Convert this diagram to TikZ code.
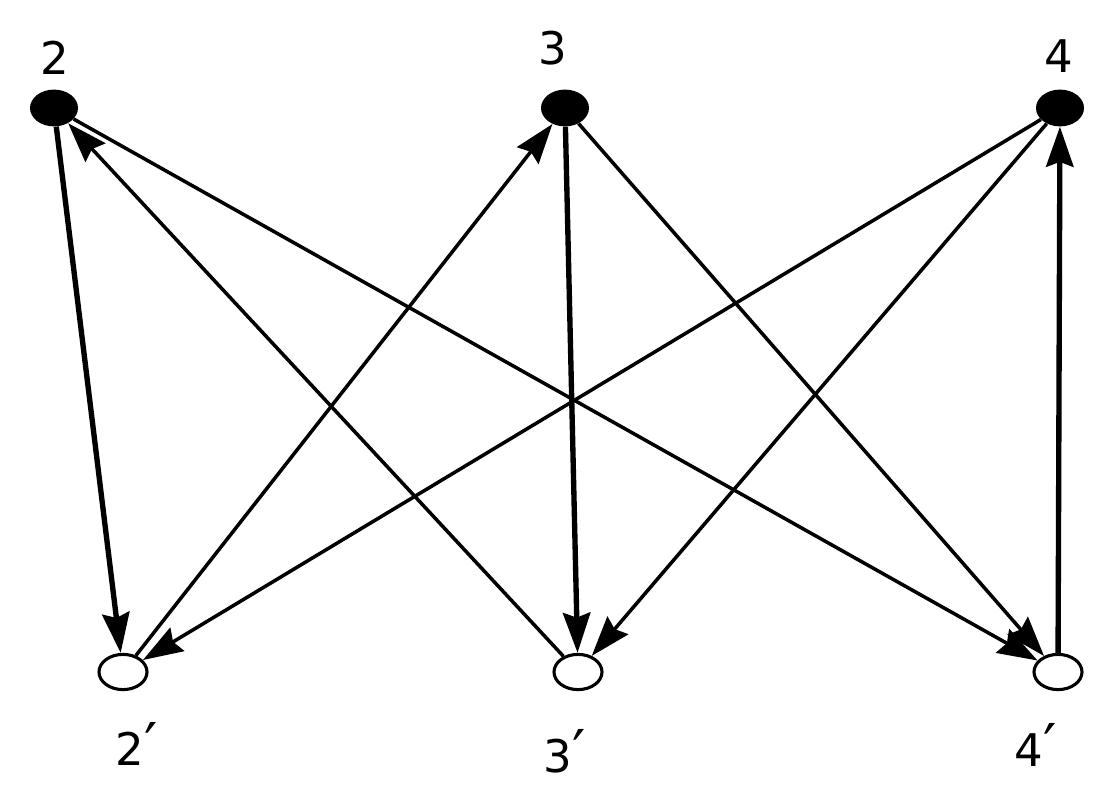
\documentclass[tikz,border=0pt]{standalone}
\usepackage{fontspec}
\setmainfont{DejaVu Sans}
\usetikzlibrary{arrows.meta,shapes.geometric}
\newcommand{\pr}{{\fontsize{42}{42}\selectfont′}}
\begin{document}
\begin{tikzpicture}[x=0.025cm,y=-0.025cm,
	blackv/.style={ellipse,fill=black,minimum width=1.2cm,minimum height=0.92cm,inner sep=0pt},
	whitev/.style={ellipse,draw,line width=2.2pt,fill=white,minimum width=1.2cm,minimum height=0.88cm,inner sep=0pt},
	lab/.style={font=\fontsize{32}{34}\selectfont,anchor=base,inner sep=0pt},
	arr/.style={line width=2.5pt,-{Stealth[length=1cm,width=0.68cm,inset=0.12cm]}},
	heavyarr/.style={arr,line width=3.8pt}]
	\useasboundingbox (0,0) rectangle (1119,788);

	\node[blackv] (t2) at (54,108) {};
	\node[blackv] (t3) at (565,108) {};
	\node[blackv] (t4) at (1060,108) {};
	\node[whitev] (b2) at (123,672) {};
	\node[whitev] (b3) at (578,672) {};
	\node[whitev] (b4) at (1058,672) {};

	\node[lab] (l2) at (55,75) {2};
	\node[lab] (l3) at (553,65) {3};
	\node[lab] (l4) at (1059,73) {4};
	\node[lab] (l2p) at (137,765) {2\pr};
	\node[lab] (l3p) at (565,772) {3\pr};
	\node[lab] (l4p) at (1036,766) {4\pr};

	\draw[heavyarr] (t2)--(b2);
	\draw[heavyarr] (t3)--(b3);
	\draw[heavyarr] (b4)--(t4);
	\draw[arr] (b3)--(t2);
	\draw[arr] (t2)--(b4);
	\draw[arr] (b2)--(t3);
	\draw[arr] (t3)--(b4);
	\draw[arr] (t4)--(b2);
	\draw[arr] (t4)--(b3);
\end{tikzpicture}
\end{document}
